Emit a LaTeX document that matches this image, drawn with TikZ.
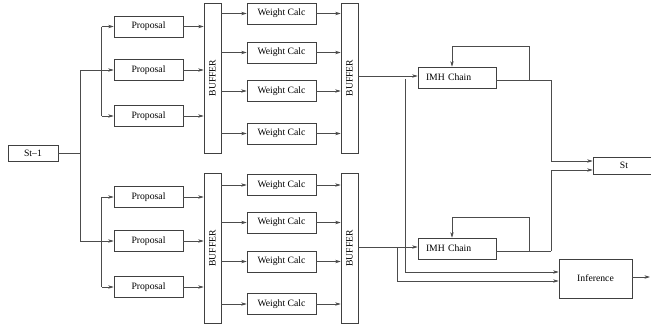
\documentclass[tikz,border=0pt]{standalone}
\usepackage{fontspec}
\setmainfont{Liberation Serif}
\usetikzlibrary{arrows.meta}
\begin{document}
\begin{tikzpicture}[x=1pt,y=-1pt,
  box/.style={draw=black!75, line width=0.6pt, inner sep=0pt, font=\fontsize{9.7}{11}\selectfont},
  prop/.style={box, minimum width=69pt, minimum height=21pt},
  wc/.style={box, minimum width=69pt, minimum height=21pt},
  buf/.style={box, minimum width=17pt, minimum height=150pt, label={[rotate=90, font=\fontsize{9.7}{11}\selectfont]center:BUFFER}},
  imh/.style={box, minimum width=78pt, minimum height=21pt},
  lin/.style={draw=black!70, line width=0.6pt},
  conn/.style={lin, -{Stealth[length=5.5pt,width=3.4pt,inset=1.6pt]}}]
\useasboundingbox (0,0) rectangle (651,327);

% left
\node[box, minimum width=50pt, minimum height=16pt] (s) at (33,153) {St--1};
\node[prop] (p1) at (148.5,26.5) {Proposal};
\node[prop] (p2) at (148.5,70) {Proposal};
\node[prop] (p3) at (148.5,116) {Proposal};
\node[prop] (p4) at (148.5,197) {Proposal};
\node[prop] (p5) at (148.5,241) {Proposal};
\node[prop] (p6) at (148.5,287) {Proposal};

\node[buf] (b1) at (212.5,78) {};
\node[buf] (b2) at (212.5,248.5) {};
\node[buf] (b3) at (349.5,78) {};
\node[buf] (b4) at (349.5,248.5) {};

\node[wc] (w1) at (281.5,13.5) {Weight Calc};
\node[wc] (w2) at (281.5,52.5) {Weight Calc};
\node[wc] (w3) at (281.5,91) {Weight Calc};
\node[wc] (w4) at (281.5,133.5) {Weight Calc};
\node[wc] (w5) at (281.5,185) {Weight Calc};
\node[wc] (w6) at (281.5,222.5) {Weight Calc};
\node[wc] (w7) at (281.5,261.5) {Weight Calc};
\node[wc] (w8) at (281.5,304) {Weight Calc};

\node[imh, text width=62pt, align=left] (i1) at (457,77.5) {IMH Chain};
\node[imh, text width=62pt, align=left] (i2) at (457,248.5) {IMH Chain};

\node[box, minimum width=62pt, minimum height=17pt, text width=56pt, align=center] (st) at (624,165.5) {St};
\node[box, minimum width=73pt, minimum height=39pt] (inf) at (595.5,278.5) {Inference};

% trunk and branches
\coordinate (tr) at (80,153);
\coordinate (br) at (101.7,0);
\draw[lin] (s.east) -- (tr);
\draw[lin] (tr |- p2.west) -- (tr |- p5.west);
\draw[conn] (tr |- p2.west) -- (p2.west);
\draw[conn] (tr |- p5.west) -- (p5.west);
\draw[lin] (br |- p1.west) -- (br |- p3.west);
\draw[conn] (br |- p1.west) -- (p1.west);
\draw[conn] (br |- p3.west) -- (p3.west);
\draw[lin] (br |- p4.west) -- (br |- p6.west);
\draw[conn] (br |- p4.west) -- (p4.west);
\draw[conn] (br |- p6.west) -- (p6.west);

% proposals to buffers
\foreach \p in {p1,p2,p3} \draw[conn] (\p.east) -- (\p.east -| b1.west);
\foreach \p in {p4,p5,p6} \draw[conn] (\p.east) -- (\p.east -| b2.west);

% buffers to weight calcs and back
\foreach \w in {w1,w2,w3,w4} {
  \draw[conn] (\w.west -| b1.east) -- (\w.west);
  \draw[conn] (\w.east) -- (\w.east -| b3.west);
}
\foreach \w in {w5,w6,w7,w8} {
  \draw[conn] (\w.west -| b2.east) -- (\w.west);
  \draw[conn] (\w.east) -- (\w.east -| b4.west);
}

% to IMH chains
\draw[conn] (b3.east |- 0,76) -- (i1.west |- 0,76);
\draw[conn] (b4.east |- 0,247) -- (i2.west |- 0,247);

% feedback loops and outputs
\coordinate (o1) at (496,80);
\coordinate (k1) at (529,80);
\coordinate (m1) at (551,80);
\draw[lin] (o1) -- (m1);
\draw[conn] (k1) -- (529,46) -| ([xshift=-5pt]i1.north);
\draw[conn] (m1) |- ([yshift=4.5pt]st.west);

\coordinate (o2) at (496,251);
\coordinate (k2) at (529,251);
\coordinate (m2) at (551,251);
\draw[lin] (o2) -- (m2);
\draw[conn] (k2) -- (529,217) -| ([xshift=-5pt]i2.north);
\draw[conn] (m2) |- ([yshift=-4.5pt]st.west);

% to inference
\coordinate (v1) at (405,79);
\coordinate (v2) at (397,247);
\draw[conn] (v1) |- ([yshift=6.5pt]inf.west);
\draw[conn] (v2) |- ([yshift=-2.5pt]inf.west);
\coordinate (out) at (650,277);
\draw[conn] (inf.east |- out) -- (out);
\end{tikzpicture}
\end{document}
